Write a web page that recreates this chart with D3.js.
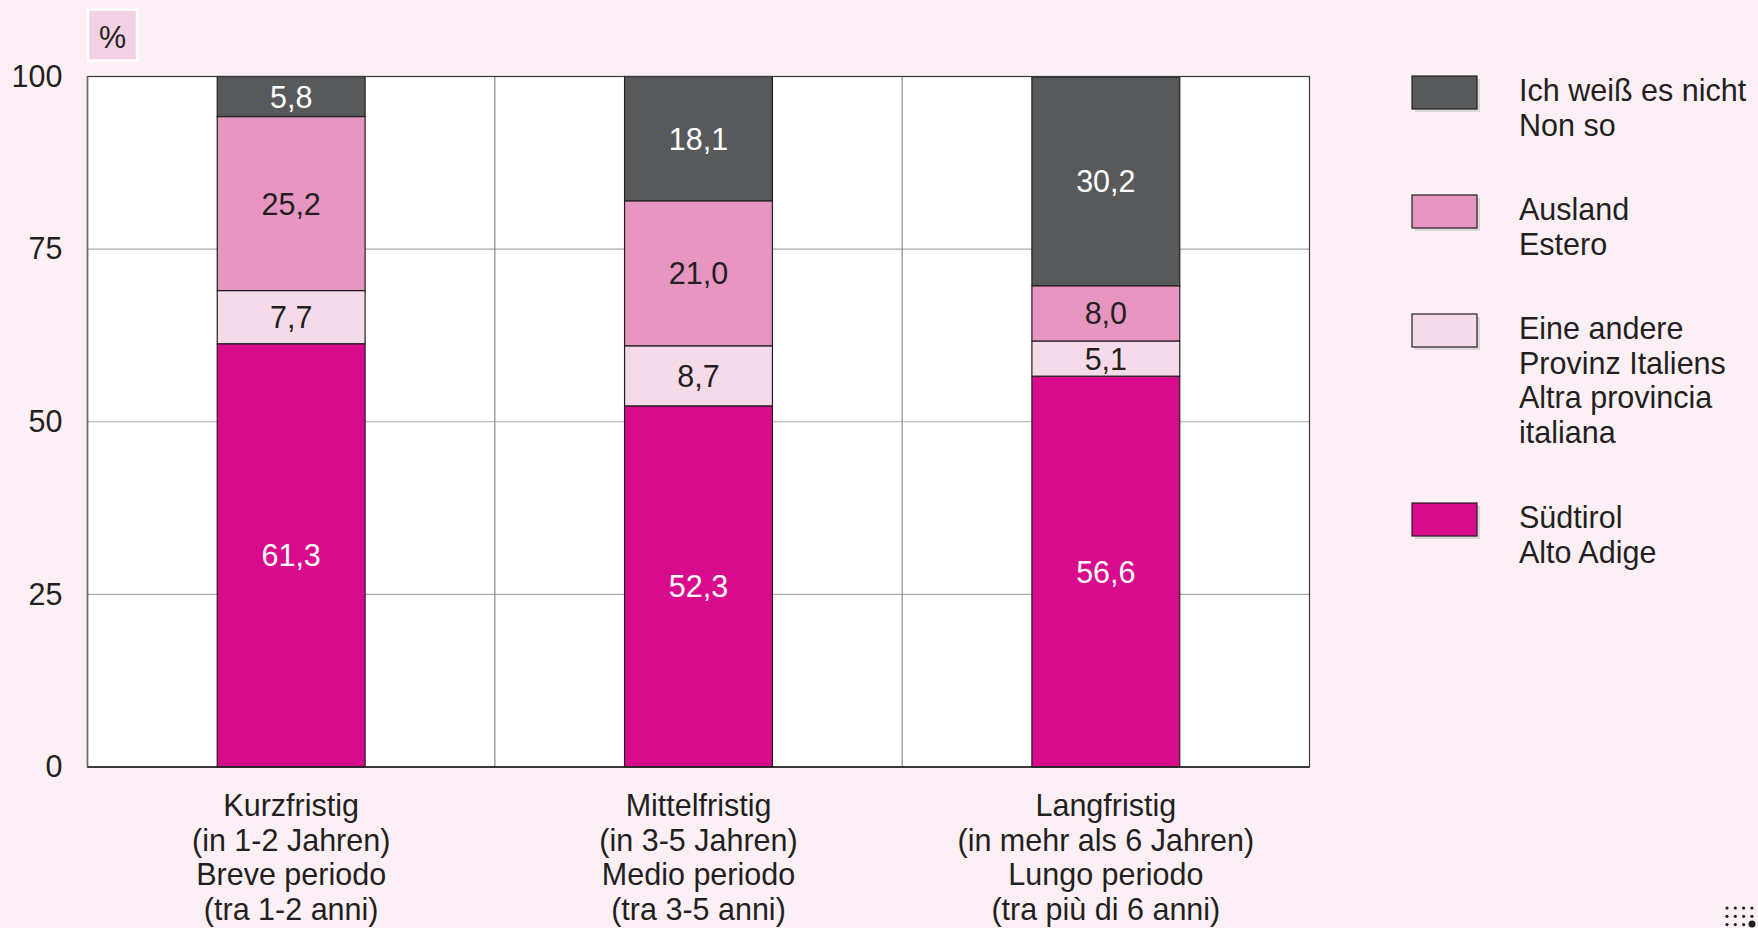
<!DOCTYPE html>
<html><head><meta charset="utf-8">
<script src="https://cdn.jsdelivr.net/npm/d3@7"></script>
<style>
html,body{margin:0;padding:0;background:#fcf0f6;}
svg{display:block;font-family:"Liberation Sans",Arial,sans-serif;}
</style></head>
<body><svg id="chart" width="1758" height="928"></svg>
<script>
const categories = [
  ["Kurzfristig","(in 1-2 Jahren)","Breve periodo","(tra 1-2 anni)"],
  ["Mittelfristig","(in 3-5 Jahren)","Medio periodo","(tra 3-5 anni)"],
  ["Langfristig","(in mehr als 6 Jahren)","Lungo periodo","(tra più di 6 anni)"]
];
const seriesNames = [
  ["Südtirol","Alto Adige"],
  ["Eine andere","Provinz Italiens","Altra provincia","italiana"],
  ["Ausland","Estero"],
  ["Ich weiß es nicht","Non so"]
];
const suedtirol = [61.3, 52.3, 56.6];
const andereProvinz = [7.7, 8.7, 5.1];
const ausland = [25.2, 21.0, 8.0];
const weissNicht = [5.8, 18.1, 30.2];
const yTicks = [0, 25, 50, 75, 100];
const colors = ["#d70b8c", "#f5dbe9", "#e796c1", "#58595b"];
const labelColors = ["#ffffff", "#231f20", "#231f20", "#ffffff"];

const FS = 30.5;
const seriesValues = [suedtirol, andereProvinz, ausland, weissNicht];
const svg = d3.select("#chart");
const W = 1758, H = 928;
const m = {left: 87.5, right: 1309.5, top: 76.5, bottom: 767};

const x = d3.scaleBand().domain(d3.range(categories.length)).range([m.left, m.right]).paddingInner(0).paddingOuter(0);
const y = d3.scaleLinear().domain([0, 100]).range([m.bottom, m.top]);
const barW = x.bandwidth() * 0.363;

svg.append("rect").attr("width", W).attr("height", H).attr("fill", "#fcf0f6");
svg.append("rect").attr("x", m.left).attr("y", m.top).attr("width", m.right - m.left).attr("height", m.bottom - m.top).attr("fill", "#ffffff");

// horizontal grid
svg.append("g").selectAll("line").data(yTicks.filter(t => t > 0 && t < 100)).join("line")
  .attr("x1", m.left).attr("x2", m.right)
  .attr("y1", d => y(d)).attr("y2", d => y(d))
  .attr("stroke", "#a7a9ac").attr("stroke-width", 1.2);
// vertical band separators
svg.append("g").selectAll("line").data(d3.range(1, categories.length)).join("line")
  .attr("x1", d => x(d)).attr("x2", d => x(d))
  .attr("y1", m.top).attr("y2", m.bottom)
  .attr("stroke", "#8a8c8e").attr("stroke-width", 1.2);

// stacked bars
const table = categories.map((c, i) => {
  const o = {i};
  seriesValues.forEach((s, k) => o["s" + k] = s[i]);
  return o;
});
const stack = d3.stack().keys(seriesValues.map((s, k) => "s" + k));
const stacked = stack(table);

const gBars = svg.append("g");
stacked.forEach((layer, k) => {
  const g = gBars.append("g");
  g.selectAll("rect").data(layer).join("rect")
    .attr("x", d => x(d.data.i) + (x.bandwidth() - barW) / 2)
    .attr("width", barW)
    .attr("y", d => Math.max(y(d[1]), m.top))
    .attr("height", d => y(d[0]) - Math.max(y(d[1]), m.top))
    .attr("fill", colors[k])
    .attr("stroke", "#231f20").attr("stroke-width", 1.2);
});
stacked.forEach((layer, k) => {
  svg.append("g").selectAll("text").data(layer).join("text")
    .attr("x", d => x(d.data.i) + x.bandwidth() / 2)
    .attr("y", d => (y(d[0]) + Math.max(y(d[1]), m.top)) / 2)
    .attr("dy", "0.36em")
    .attr("text-anchor", "middle")
    .attr("font-size", FS)
    .attr("fill", labelColors[k])
    .text(d => d3.format(".1f")(d[1] - d[0]).replace(".", ","));
});

// frame
svg.append("rect").attr("x", m.left).attr("y", m.top).attr("width", m.right - m.left).attr("height", m.bottom - m.top)
  .attr("fill", "none").attr("stroke", "#3a3a3c").attr("stroke-width", 1.2);
svg.append("line").attr("x1", m.left).attr("x2", m.left).attr("y1", m.top).attr("y2", m.bottom)
  .attr("stroke", "#6d6e71").attr("stroke-width", 1.6);

// y axis
const yAxis = d3.axisLeft(y).tickValues(yTicks).tickSize(0).tickPadding(25);
const gy = svg.append("g").attr("transform", `translate(${m.left},0)`).call(yAxis);
gy.select(".domain").remove();
gy.selectAll("text").attr("font-size", FS).attr("fill", "#231f20").attr("font-family", "Liberation Sans, Arial, sans-serif");

// x axis labels
const xAxis = d3.axisBottom(x).tickSize(0).tickFormat(() => "");
const gx = svg.append("g").attr("transform", `translate(0,${m.bottom})`).call(xAxis);
gx.select(".domain").remove();
gx.selectAll(".tick").each(function(d) {
  const t = d3.select(this).append("text").attr("text-anchor", "middle").attr("font-size", FS)
    .attr("fill", "#231f20").attr("font-family", "Liberation Sans, Arial, sans-serif");
  categories[d].forEach((line, j) => {
    t.append("tspan").attr("x", 0).attr("y", 38 + j * 34.7).attr("dy", "0.36em").text(line);
  });
});
svg.append("line").attr("x1", m.left).attr("x2", m.right).attr("y1", m.bottom).attr("y2", m.bottom)
  .attr("stroke", "#231f20").attr("stroke-width", 1.5);

// % box
svg.append("rect").attr("x", 88).attr("y", 9.5).attr("width", 49).attr("height", 51)
  .attr("fill", "#f2d1e4").attr("stroke", "#ffffff").attr("stroke-width", 2.5);
svg.append("text").attr("x", 112.5).attr("y", 37).attr("dy", "0.36em").attr("text-anchor", "middle")
  .attr("font-size", FS).attr("fill", "#231f20").text("%");

// legend (top to bottom: reversed order)
const legendOrder = [3, 2, 1, 0];
const legendTops = [76, 195, 314, 503];
const lg = svg.append("g");
legendOrder.forEach((k, idx) => {
  const top = legendTops[idx];
  lg.append("rect").attr("x", 1415).attr("y", top + 3).attr("width", 65).attr("height", 33).attr("fill", "#d9d6d8");
  lg.append("rect").attr("x", 1412).attr("y", top).attr("width", 65).attr("height", 33)
    .attr("fill", colors[k]).attr("stroke", "#231f20").attr("stroke-width", 1.2);
  const t = lg.append("text").attr("font-size", FS).attr("fill", "#231f20");
  seriesNames[k].forEach((line, j) => {
    t.append("tspan").attr("x", 1519).attr("y", top + 14 + j * 34.7).attr("dy", "0.36em").text(line);
  });
});

// corner dot logo
const dots = [];
[0,1,2].forEach(r => [0,1,2,3].forEach(c => dots.push([1727 + c * 8.3, 908 + r * 8.3])));
svg.append("g").selectAll("circle").data(dots).join("circle")
  .attr("cx", d => d[0]).attr("cy", d => d[1]).attr("r", 1.6).attr("fill", "#231f20");
svg.append("circle").attr("cx", 1752).attr("cy", 924).attr("r", 3.5).attr("fill", "#231f20");
</script></body></html>
